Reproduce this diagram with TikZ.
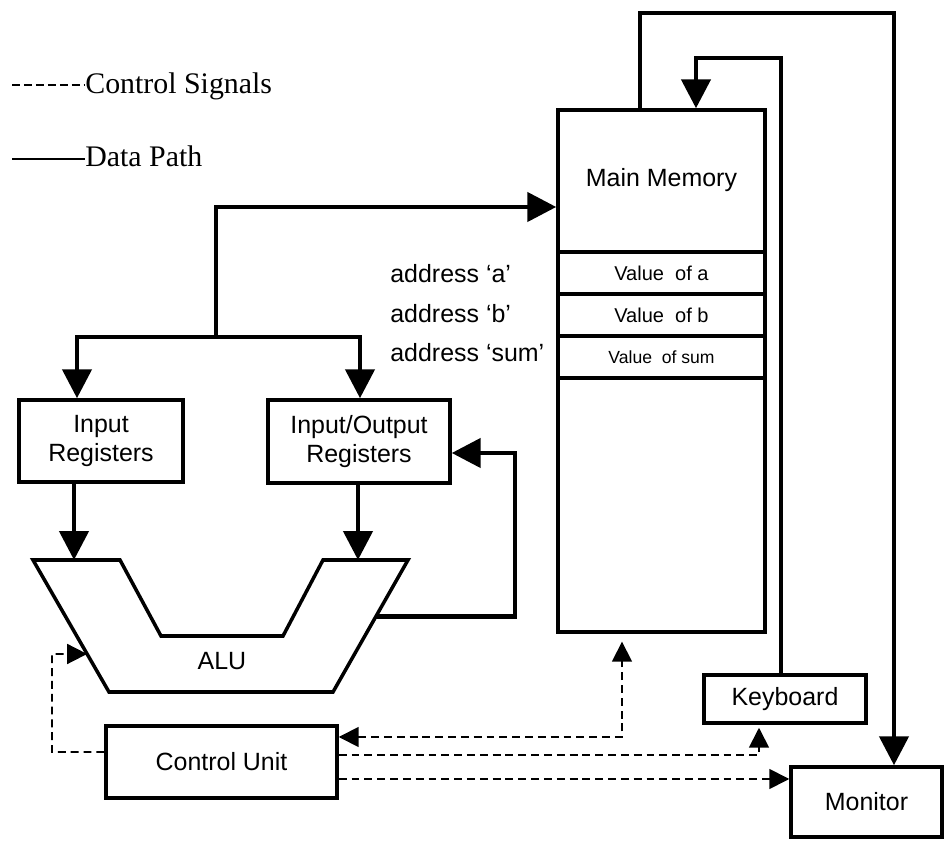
\documentclass[tikz,border=0pt]{standalone}
\usepackage{fontspec}
\setmainfont{Liberation Sans}
\newfontfamily\legendfont{Liberation Serif}
\usetikzlibrary{positioning,calc,arrows.meta}

\tikzset{
	datatip/.tip={Triangle[length=0.58cm,width=0.58cm]},
	ctrltip/.tip={Triangle[length=0.4cm,width=0.4cm]},
	boxfont/.style={font=\fontsize{14.2pt}{16pt}\selectfont},
	unitbox/.style={draw, line width=2pt, rectangle, inner sep=0, align=center, boxfont},
	cellbox/.style={draw, line width=2pt, rectangle, inner sep=0, minimum width=4.14cm, minimum height=0.84cm},
	datapath/.style={line width=2.6pt, -datatip},
	ctrlsig/.style={line width=1pt, dash pattern=on 4.5pt off 2.8pt, -ctrltip},
	legendtxt/.style={anchor=base west, inner sep=0, font=\legendfont\fontsize{17pt}{17pt}\selectfont},
}

\begin{document}
\begin{tikzpicture}[x=0.02cm,y=-0.02cm]
	\useasboundingbox (0,0) rectangle (948,844);

	% legend
	\node[legendtxt] (ctrl-txt) at (85,94) {Control Signals};
	\node[legendtxt] (data-txt) at (85,167) {Data Path};
	\coordinate (ctrl-l) at (12,85);
	\coordinate (data-l) at (12,159);
	\draw[line width=1.1pt, dash pattern=on 4.5pt off 2.3pt] (ctrl-l) -- (ctrl-l -| ctrl-txt.west);
	\draw[line width=1.6pt] (data-l) -- (data-l -| data-txt.west);

	% memory
	\node[unitbox, minimum width=4.14cm, minimum height=10.44cm] (mem) at (661.5,371) {};
	\node[boxfont, anchor=base] (mem-txt) at (661.5,187) {Main Memory};
	\node[cellbox, font=\fontsize{11.4pt}{12pt}\selectfont] (cell-a) at (661.5,273) {Value\ \ of a};
	\node[cellbox, font=\fontsize{11.4pt}{12pt}\selectfont] (cell-b) at (661.5,315) {Value\ \ of b};
	\node[cellbox, font=\fontsize{10pt}{12pt}\selectfont] (cell-sum) at (661.5,357) {Value\ \ of sum};
	\node[boxfont, anchor=base west, inner sep=0] (adr-a) at (390,283) {address ‘a’};
	\node[boxfont, anchor=base west, inner sep=0] (adr-b) at (390,323) {address ‘b’};
	\node[boxfont, anchor=base west, inner sep=0] (adr-sum) at (390,362) {address ‘sum’};

	% units
	\node[unitbox, minimum width=3.28cm, minimum height=1.64cm] (inreg) at (101,441) {Input\\Registers};
	\node[unitbox, minimum width=3.64cm, minimum height=1.66cm] (ioreg) at (359,441.5) {Input/Output\\Registers};
	\node[unitbox, minimum width=4.62cm, minimum height=1.44cm] (cu) at (221.5,762) {Control Unit};
	\node[unitbox, minimum width=3.24cm, minimum height=0.96cm] (kbd) at (785,699) {Keyboard};
	\node[unitbox, minimum width=3.02cm, minimum height=1.4cm] (mon) at (866.5,802) {Monitor};

	% ALU
	\draw[line width=2pt] (33,560) coordinate (alu-tl) -- (120,560) -- (161,636) -- (283,636) -- (323,560)
		-- (408,560) coordinate (alu-tr) -- (333,692) coordinate (alu-br) -- (109,692) coordinate (alu-bl) -- cycle;
	\node[boxfont, anchor=base] (alu) at (222,670) {ALU};
	\coordinate (alu-in1) at (74,560);
	\coordinate (alu-in2) at (358,560);
	\coordinate (alu-out) at ($(alu-tr)!0.43!(alu-br)$);
	\coordinate (alu-ctl) at ($(alu-tl)!0.712!(alu-bl)$);

	% data path
	\coordinate (bus-split) at (216,337);
	\coordinate (bus-top) at (216,207);
	\draw[datapath] (bus-split) -- (bus-top) -- (bus-top -| mem.west);
	\draw[datapath] (bus-split) -| ($(inreg.north)+(-24,0)$);
	\draw[datapath] (bus-split) -| ($(ioreg.north)+(1,0)$);
	\draw[datapath] ($(inreg.south)+(-27,0)$) -- (alu-in1);
	\draw[datapath] ($(ioreg.south)+(-1,0)$) -- (alu-in2);
	\coordinate (loop-r) at (515,453);
	\draw[datapath] (alu-out) -- (alu-out -| loop-r) -- (loop-r) -- (loop-r -| ioreg.east);
	\coordinate (mem-ret) at (894,13);
	\draw[datapath] ($(mem.north)+(-21.5,0)$) |- (mem-ret) -- (mem-ret |- mon.north);
	\coordinate (kbd-ret) at (781,58);
	\draw[datapath] ($(kbd.north)+(-4,0)$) -- (kbd-ret) -| ($(mem.north)+(34.5,0)$);

	% control signals
	\coordinate (ctl-l) at (52,654);
	\draw[ctrlsig] ($(cu.west)+(0,-10)$) -| (ctl-l) -- (alu-ctl);
	\draw[ctrlsig, ctrltip-ctrltip] ($(cu.east)+(0,-25)$) -| ($(mem.south)+(-39.5,8)$);
	\draw[ctrlsig] ($(cu.east)+(0,-7)$) -| ($(kbd.south)+(-26,3)$);
	\coordinate (cu-mon) at ($(cu.east)+(0,17)$);
	\draw[ctrlsig] (cu-mon) -- (cu-mon -| mon.west);
\end{tikzpicture}
\end{document}
